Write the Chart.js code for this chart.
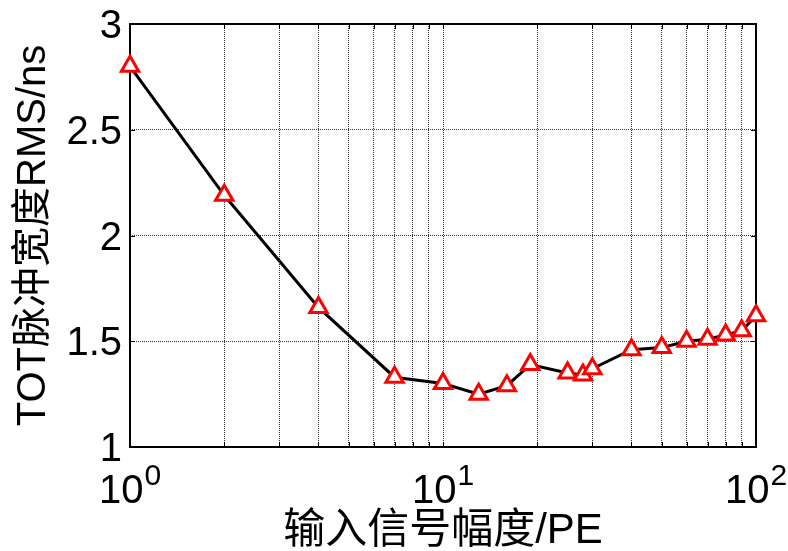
<!DOCTYPE html>
<html>
<head>
<meta charset="utf-8">
<title>TOT脉冲宽度RMS</title>
<script src="https://cdn.jsdelivr.net/npm/chart.js@4/dist/chart.umd.min.js"></script>
<style>
  html, body { margin: 0; padding: 0; background: #fff; }
  canvas { display: block; }
</style>
</head>
<body>
<canvas id="rmsChart" width="788" height="551"></canvas>
<script>
// ==========================================
// Data
// ==========================================

// input amplitude (PE) and the measured TOT pulse width RMS (ns)
const amplitudes = [1, 2, 4, 7, 10, 13, 16, 19, 25, 28, 30, 40, 50, 60, 70, 80, 90, 100];
const rmsValues = [2.80, 2.19, 1.66, 1.33, 1.30, 1.25, 1.29, 1.39, 1.35, 1.34, 1.37, 1.46, 1.47, 1.50, 1.51, 1.53, 1.55, 1.62];

// log axis grid positions and the decade labels (10^exp)
const xGridValues = [1, 2, 3, 4, 5, 6, 7, 8, 9, 10, 20, 30, 40, 50, 60, 70, 80, 90, 100];
const xDecades = [1, 10, 100];
const xDecadeExponents = ['0', '1', '2'];

const yTicks = [1, 1.5, 2, 2.5, 3];
const yTickLabels = ['1', '1.5', '2', '2.5', '3'];

const xTitle = '输入信号幅度/PE';
const yTitle = 'TOT脉冲宽度RMS/ns';

// ==========================================
// Axis decoration: box, inward ticks, labels
// ==========================================
const FONT = '"Liberation Sans", Arial, "Noto Sans CJK SC", sans-serif';

const axesDecor = {
  id: 'axesDecor',
  beforeDatasetsDraw(chart) {
    const { ctx, chartArea: a, scales: { x, y } } = chart;
    ctx.save();
    ctx.strokeStyle = '#000';
    ctx.lineWidth = 1;
    ctx.beginPath();
    xGridValues.forEach(v => {
      const px = Math.round(x.getPixelForValue(v)) + 0.5;
      ctx.moveTo(px, a.bottom); ctx.lineTo(px, a.bottom - 5);
      ctx.moveTo(px, a.top); ctx.lineTo(px, a.top + 5);
    });
    yTicks.forEach(v => {
      const py = Math.round(y.getPixelForValue(v)) + 0.5;
      ctx.moveTo(a.left, py); ctx.lineTo(a.left + 5, py);
      ctx.moveTo(a.right, py); ctx.lineTo(a.right - 5, py);
    });
    ctx.stroke();

    ctx.lineWidth = 2;
    ctx.strokeRect(a.left, a.top, a.right - a.left, a.bottom - a.top);
    ctx.restore();
  },
  afterDraw(chart) {
    const { ctx, chartArea: a, scales: { x, y } } = chart;
    ctx.save();
    ctx.fillStyle = '#000';
    ctx.textBaseline = 'alphabetic';

    // y tick labels, right aligned next to the axis
    ctx.font = '40px ' + FONT;
    ctx.textAlign = 'right';
    yTicks.forEach((v, i) => {
      ctx.fillText(yTickLabels[i], a.left - 8, y.getPixelForValue(v) + 14);
    });

    // x decade labels: "10" with a raised exponent, centred on the tick
    ctx.textAlign = 'left';
    xDecades.forEach((v, i) => {
      const px = x.getPixelForValue(v);
      ctx.font = '40px ' + FONT;
      const wBase = ctx.measureText('10').width;
      ctx.font = '30px ' + FONT;
      const wExp = ctx.measureText(xDecadeExponents[i]).width;
      const left = px - (wBase + wExp + 1) / 2;
      ctx.font = '40px ' + FONT;
      ctx.fillText('10', left, a.bottom + 56);
      ctx.font = '30px ' + FONT;
      ctx.fillText(xDecadeExponents[i], left + wBase + 1, a.bottom + 38);
    });

    // axis titles
    ctx.font = '42px ' + FONT;
    ctx.textAlign = 'center';
    ctx.fillText(xTitle, (a.left + a.right) / 2, 543);

    ctx.font = '40px ' + FONT;
    ctx.translate(45, (a.top + a.bottom) / 2);
    ctx.rotate(-Math.PI / 2);
    ctx.fillText(yTitle, 0, 0);
    ctx.restore();
  }
};

// ==========================================
// Chart
// ==========================================
const ctx = document.getElementById('rmsChart').getContext('2d');

new Chart(ctx, {
  type: 'line',
  data: {
    datasets: [{
      data: amplitudes.map((a, i) => ({ x: a, y: rmsValues[i] })),
      borderColor: '#000',
      borderWidth: 3,
      tension: 0,
      pointStyle: 'triangle',
      pointRadius: 10,
      pointBorderColor: '#f00',
      pointBackgroundColor: '#fff',
      pointBorderWidth: 3,
      clip: false
    }]
  },
  options: {
    responsive: false,
    animation: false,
    layout: { padding: { left: 130, top: 24, right: 32, bottom: 104 } },
    plugins: {
      legend: { display: false },
      tooltip: { enabled: false }
    },
    scales: {
      x: {
        type: 'logarithmic',
        min: 1,
        max: 100,
        afterBuildTicks: scale => {
          scale.ticks = xGridValues.map(v => ({ value: v }));
        },
        ticks: { display: false },
        grid: { drawTicks: false, color: '#333', lineWidth: 1 },
        border: { display: false, dash: [1, 1] }
      },
      y: {
        type: 'linear',
        min: 1,
        max: 3,
        ticks: { display: false, stepSize: 0.5 },
        grid: { drawTicks: false, color: '#333', lineWidth: 1 },
        border: { display: false, dash: [1, 1] }
      }
    }
  },
  plugins: [axesDecor]
});
</script>
</body>
</html>
